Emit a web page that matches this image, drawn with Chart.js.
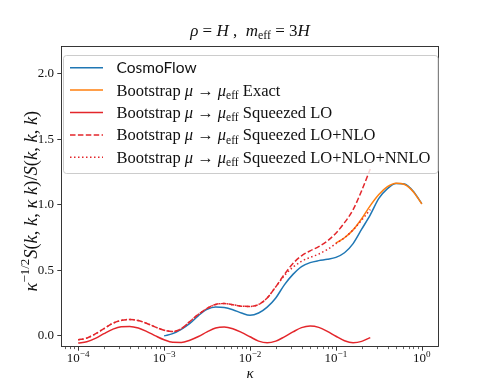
<!DOCTYPE html>
<html>
<head>
<meta charset="utf-8">
<script src="https://cdn.jsdelivr.net/npm/chart.js@4.4.1/dist/chart.umd.min.js"></script>
<style>
  html, body { margin: 0; padding: 0; background: #fff; }
  #wrap { width: 488px; height: 391px; }
</style>
</head>
<body>
<div id="wrap"><canvas id="c"></canvas></div>
<script>
// log10(kappa) grids for each family of curves
const logKSqueezed = [-4.0, -3.9, -3.8, -3.7, -3.6, -3.5, -3.4, -3.3, -3.2, -3.1, -3.0, -2.9, -2.8, -2.7, -2.6, -2.5, -2.4, -2.3, -2.2, -2.1, -2.0, -1.9, -1.8, -1.7, -1.6, -1.5, -1.4, -1.3, -1.2, -1.1, -1.0, -0.9, -0.8, -0.7, -0.6];
const logKCosmo = [-3.0, -2.9, -2.8, -2.7, -2.6, -2.5, -2.4, -2.3, -2.2, -2.1, -2.0, -1.9, -1.8, -1.7, -1.6, -1.5, -1.4, -1.3, -1.2, -1.1, -1.0, -0.9, -0.8, -0.7, -0.6, -0.5, -0.4, -0.3, -0.2, -0.1, 0.0];
const logKExact = [-1.0, -0.9, -0.8, -0.7, -0.6, -0.5, -0.4, -0.3, -0.2, -0.1, 0.0];

const cosmoFlow = [-0.005, 0.012, 0.045, 0.090, 0.150, 0.197, 0.216, 0.212, 0.195, 0.170, 0.152, 0.170, 0.215, 0.285, 0.385, 0.465, 0.525, 0.555, 0.570, 0.580, 0.595, 0.630, 0.700, 0.810, 0.920, 1.045, 1.120, 1.160, 1.155, 1.100, 1.005];
const exact = [0.705, 0.745, 0.805, 0.890, 0.990, 1.075, 1.135, 1.162, 1.152, 1.097, 1.003];
const squeezedLO = [-0.059, -0.050, -0.024, 0.012, 0.045, 0.065, 0.067, 0.055, 0.028, -0.005, -0.035, -0.054, -0.055, -0.038, -0.010, 0.025, 0.055, 0.063, 0.050, 0.022, -0.012, -0.045, -0.058, -0.045, -0.012, 0.025, 0.058, 0.070, 0.060, 0.030, -0.008, -0.042, -0.057, -0.047, -0.018];
const squeezedNLO = [-0.035, -0.022, 0.010, 0.050, 0.090, 0.113, 0.120, 0.112, 0.090, 0.062, 0.038, 0.028, 0.050, 0.105, 0.160, 0.205, 0.235, 0.242, 0.233, 0.222, 0.220, 0.235, 0.285, 0.370, 0.465, 0.548, 0.607, 0.645, 0.677, 0.720, 0.780, 0.860, 0.960, 1.105, 1.270];
const squeezedNNLO = [-0.035, -0.022, 0.010, 0.050, 0.090, 0.113, 0.120, 0.112, 0.090, 0.062, 0.038, 0.028, 0.050, 0.105, 0.160, 0.205, 0.235, 0.242, 0.233, 0.222, 0.220, 0.235, 0.285, 0.370, 0.455, 0.520, 0.565, 0.595, 0.620, 0.655, 0.700, 0.745, 0.805, 0.880, 0.960];

// *..* italic, _{..} subscript, ^{..} superscript
const seriesLabels = [
  'CosmoFlow',
  'Bootstrap *μ* → *μ*_{eff} Exact',
  'Bootstrap *μ* → *μ*_{eff} Squeezed LO',
  'Bootstrap *μ* → *μ*_{eff} Squeezed LO+NLO',
  'Bootstrap *μ* → *μ*_{eff} Squeezed LO+NLO+NNLO'
];
const titleText = '*ρ* = *H* ,  *m*_{eff} = 3*H*';
const xLabel = '*κ*';
const yLabel = '*κ*^{−1/2}*S*(*k*, *k*, *κ k*)/*S*(*k*, *k*, *k*)';
const xTickExps = [-4, -3, -2, -1, 0];
const yTicks = [0.0, 0.5, 1.0, 1.5, 2.0];

const SERIF = '"Liberation Serif", "DejaVu Serif", serif';
const SANS = 'Lato, "Open Sans", sans-serif';

function toPoints(logs, vals) {
  var pts = [];
  for (var i = 0; i < vals.length; i++) {
    pts.push({x: Math.pow(10, logs[i]), y: vals[i]});
  }
  return pts;
}

function parseRich(s) {
  var segs = [];
  var it = false, buf = '', i = 0;
  var push = function (t, pos) { if (t) segs.push({t: t, it: it, pos: pos}); };
  while (i < s.length) {
    var c = s[i];
    if (c === '*') {
      push(buf, 0); buf = ''; it = !it; i++;
    } else if ((c === '_' || c === '^') && s[i + 1] === '{') {
      push(buf, 0); buf = '';
      var j = s.indexOf('}', i);
      push(s.slice(i + 2, j), c === '_' ? 1 : -1);
      i = j + 1;
    } else {
      buf += c; i++;
    }
  }
  push(buf, 0);
  return segs;
}

function drawRich(ctx, s, x, y, size, fam, align) {
  var segs = parseRich(s);
  var fontOf = function (g) {
    return (g.it ? 'italic ' : '') + (g.pos ? size * 0.7 : size) + 'px ' + fam;
  };
  var w = 0;
  segs.forEach(function (g) { ctx.font = fontOf(g); g.w = ctx.measureText(g.t).width; w += g.w; });
  var cx = align === 'center' ? x - w / 2 : (align === 'right' ? x - w : x);
  ctx.textAlign = 'left';
  ctx.textBaseline = 'alphabetic';
  segs.forEach(function (g) {
    ctx.font = fontOf(g);
    var dy = g.pos === 1 ? size * 0.2 : (g.pos === -1 ? -size * 0.4 : 0);
    ctx.fillText(g.t, cx, y + dy);
    cx += g.w;
  });
  return w;
}

const mplAxes = {
  id: 'mplAxes',
  afterDatasetsDraw(chart) {
    const ctx = chart.ctx;
    const a = chart.chartArea;
    const xs = chart.scales.x, ys = chart.scales.y;
    ctx.save();
    ctx.fillStyle = '#111';
    ctx.strokeStyle = '#222';
    ctx.lineWidth = 0.9;

    // frame
    ctx.strokeRect(Math.round(a.left) + 0.5, Math.round(a.top) + 0.5, Math.round(a.right - a.left) - 1, Math.round(a.bottom - a.top) - 1);

    // y ticks + labels
    yTicks.forEach(function (v) {
      var py = Math.round(ys.getPixelForValue(v)) + 0.5;
      ctx.beginPath(); ctx.moveTo(a.left - 3.7, py); ctx.lineTo(a.left, py); ctx.stroke();
      ctx.font = '13px ' + SERIF;
      ctx.textAlign = 'right'; ctx.textBaseline = 'middle';
      ctx.fillText(v.toFixed(1), a.left - 7, py);
    });

    // x ticks (major + minor) on log axis
    for (var e = -5; e <= 0; e++) {
      for (var m = 1; m <= 9; m++) {
        var v = m * Math.pow(10, e);
        if (v < xs.min || v > xs.max) continue;
        var px = Math.round(xs.getPixelForValue(v)) + 0.5;
        var len = m === 1 ? 3.7 : 2.1;
        ctx.lineWidth = m === 1 ? 0.9 : 0.7;
        ctx.beginPath(); ctx.moveTo(px, a.bottom); ctx.lineTo(px, a.bottom + len); ctx.stroke();
      }
    }
    ctx.lineWidth = 0.9;
    xTickExps.forEach(function (ex) {
      var px = xs.getPixelForValue(Math.pow(10, ex));
      var lab = '10^{' + (ex < 0 ? '−' + (-ex) : String(ex)) + '}';
      drawRich(ctx, lab, px, a.bottom + 15, 13, SERIF, 'center');
    });

    // axis labels + title
    drawRich(ctx, xLabel, (a.left + a.right) / 2, a.bottom + 31, 15, SERIF, 'center');
    ctx.save();
    ctx.translate(36.5, 291.5);
    ctx.rotate(-Math.PI / 2);
    drawRich(ctx, yLabel, 0, 0, 18.5, SERIF, 'left');
    ctx.restore();
    drawRich(ctx, titleText, (a.left + a.right) / 2, 36, 17, SERIF, 'center');

    // legend
    var lx = a.left + 2, ly = a.top + 9, lw = a.right - a.left - 3.5, lh = 118;
    ctx.beginPath();
    ctx.roundRect(lx + 0.5, ly + 0.5, lw, lh, 3);
    ctx.fillStyle = 'rgba(255,255,255,0.8)';
    ctx.fill();
    ctx.strokeStyle = '#cccccc';
    ctx.lineWidth = 1;
    ctx.stroke();
    chart.data.datasets.forEach(function (ds, i) {
      var rowY = ly + 12.7 + i * 22.4;
      ctx.strokeStyle = ds.borderColor;
      ctx.lineWidth = ds.borderWidth;
      ctx.setLineDash(ds.borderDash || []);
      ctx.beginPath(); ctx.moveTo(lx + 7, rowY); ctx.lineTo(lx + 40, rowY); ctx.stroke();
      ctx.setLineDash([]);
      ctx.fillStyle = '#111';
      drawRich(ctx, seriesLabels[i], lx + 53.5, rowY + 5.5, i === 0 ? 15.5 : 16.5, i === 0 ? SANS : SERIF, 'left');
    });
    ctx.restore();
  }
};

const mk = function (label, pts, color, dash, order) {
  return {
    label: label, data: pts, borderColor: color, borderWidth: 1.5,
    borderDash: dash, pointRadius: 0, fill: false,
    cubicInterpolationMode: 'monotone', order: order
  };
};

new Chart(document.getElementById('c'), {
  type: 'line',
  data: {
    datasets: [
      mk(seriesLabels[0], toPoints(logKCosmo, cosmoFlow), '#1f77b4', [], 5),
      mk(seriesLabels[1], toPoints(logKExact, exact), '#ff7f0e', [], 4),
      mk(seriesLabels[2], toPoints(logKSqueezed, squeezedLO), '#e3262b', [], 3),
      mk(seriesLabels[3], toPoints(logKSqueezed, squeezedNLO), '#e3262b', [5.5, 2.4], 2),
      mk(seriesLabels[4], toPoints(logKSqueezed, squeezedNNLO), '#e3262b', [1.5, 2.5], 1)
    ]
  },
  options: {
    responsive: true,
    maintainAspectRatio: false,
    animation: false,
    devicePixelRatio: 1,
    layout: { padding: { left: 61, right: 49, top: 46, bottom: 44 } },
    plugins: { legend: { display: false }, title: { display: false }, tooltip: { enabled: false } },
    scales: {
      x: { type: 'logarithmic', display: false, min: Math.pow(10, -4.2), max: Math.pow(10, 0.2) },
      y: { type: 'linear', display: false, min: -0.09, max: 2.21 }
    }
  },
  plugins: [mplAxes]
});
</script>
</body>
</html>
